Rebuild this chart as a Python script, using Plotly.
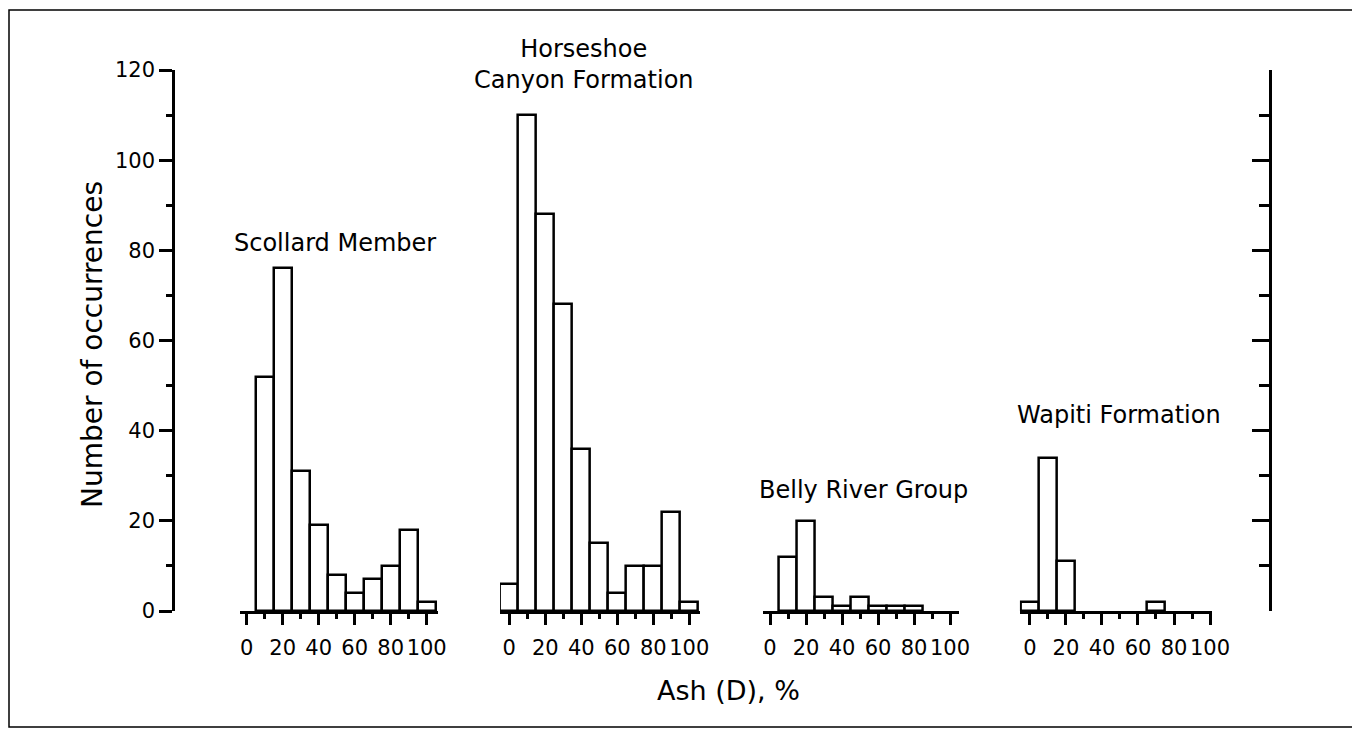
import plotly.graph_objects as go

# Ash (D) histogram counts, bin centres in % (10 % wide bins)
scollard_bins = [10, 20, 30, 40, 50, 60, 70, 80, 90, 100]
scollard_counts = [52, 76, 31, 19, 8, 4, 7, 10, 18, 2]

horseshoe_bins = [0, 10, 20, 30, 40, 50, 60, 70, 80, 90, 100]
horseshoe_counts = [6, 110, 88, 68, 36, 15, 4, 10, 10, 22, 2]

belly_bins = [10, 20, 30, 40, 50, 60, 70, 80]
belly_counts = [12, 20, 3, 1, 3, 1, 1, 1]

wapiti_bins = [0, 10, 20, 70]
wapiti_counts = [2, 34, 11, 2]

group_names = ["Scollard Member", "Horseshoe<br>Canyon Formation",
               "Belly River Group", "Wapiti Formation"]
x_ticks = [0, 20, 40, 60, 80, 100]
x_minor = [10, 30, 50, 70, 90]
y_ticks = [0, 20, 40, 60, 80, 100, 120]

# page coords of the plot area (the page body has an 8px margin)
PAGE_W, PAGE_H, OFF = 1360, 735, 8
L, R, T, B = 173, 1270, 70, 611
FONT = "DejaVu Sans"


def px(x):
    return (x - L) / (R - L)


def py(y):
    return (B - y) / (B - T)


groups = [
    (scollard_bins, scollard_counts, "x", [-3.7, 106.5], 240.0, 438.4),
    (horseshoe_bins, horseshoe_counts, "x2", [-5.2, 106], 499.9, 700.1),
    (belly_bins, belly_counts, "x3", [-4, 105], 762.8, 959.0),
    (wapiti_bins, wapiti_counts, "x4", [-5.6, 101], 1019.9, 1211.8),
]

fig = go.Figure()
layout_axes = {}
for bins, counts, xa, rng, x0, x1 in groups:
    fig.add_trace(
        go.Bar(
            x=bins,
            y=counts,
            width=10,
            xaxis=xa,
            yaxis="y",
            marker=dict(color="white", line=dict(color="black", width=2.5)),
            showlegend=False,
            hoverinfo="x+y",
        )
    )
    key = "xaxis" if xa == "x" else "xaxis" + xa[1:]
    layout_axes[key] = dict(
        domain=[px(x0), px(x1)],
        range=rng,
        anchor="y",
        tickmode="array",
        tickvals=x_ticks,
        ticks="outside",
        ticklen=11,
        tickwidth=2.5,
        tickcolor="black",
        minor=dict(tickmode="array", tickvals=x_minor, ticks="outside",
                   ticklen=5, tickwidth=2.5, tickcolor="black"),
        showline=True,
        linecolor="black",
        linewidth=2.5,
        showgrid=False,
        zeroline=False,
        tickfont=dict(family=FONT, size=21, color="black"),
        ticklabelstandoff=5,
        fixedrange=True,
    )

# empty trace so the mirrored right-hand scale gets drawn
fig.add_trace(go.Scatter(x=[], y=[], xaxis="x4", yaxis="y2",
                         showlegend=False, hoverinfo="skip"))

fig.update_layout(
    width=PAGE_W - OFF,
    height=PAGE_H - OFF,
    margin=dict(l=L - OFF, r=PAGE_W - R, t=T - OFF, b=PAGE_H - B),
    paper_bgcolor="white",
    plot_bgcolor="white",
    bargap=0,
    font=dict(family=FONT, color="black"),
    yaxis=dict(
        range=[0, 120],
        anchor="free",
        position=0,
        tickvals=y_ticks,
        ticks="outside",
        ticklen=13,
        tickwidth=2.5,
        tickcolor="black",
        minor=dict(dtick=10, ticks="outside", ticklen=6, tickwidth=2.5, tickcolor="black"),
        showline=True,
        linecolor="black",
        linewidth=2.5,
        showgrid=False,
        zeroline=False,
        tickfont=dict(family=FONT, size=21, color="black"),
        fixedrange=True,
    ),
    yaxis2=dict(
        range=[0, 120],
        overlaying="y",
        side="right",
        anchor="free",
        position=1,
        tickvals=y_ticks,
        ticks="inside",
        ticklen=17,
        tickwidth=2.5,
        tickcolor="black",
        minor=dict(dtick=10, ticks="inside", ticklen=10, tickwidth=2.5, tickcolor="black"),
        showticklabels=False,
        showline=True,
        linecolor="black",
        linewidth=2.5,
        showgrid=False,
        zeroline=False,
        fixedrange=True,
    ),
    **layout_axes,
)

label_pos = [(335, 243), (584, 64), (863, 490), (1119, 415)]
for name, (lx, ly) in zip(group_names, label_pos):
    fig.add_annotation(x=px(lx), y=py(ly), xref="paper", yref="paper", text=name,
                       xanchor="center", yanchor="middle", showarrow=False,
                       font=dict(family=FONT, size=24, color="black"))

fig.add_annotation(x=px(728), y=py(690), xref="paper", yref="paper", text="Ash (D), %",
                   xanchor="center", yanchor="middle", showarrow=False,
                   font=dict(family=FONT, size=27, color="black"))
fig.add_annotation(x=px(92), y=py(345), xref="paper", yref="paper",
                   text="Number of occurrences", textangle=-90,
                   xanchor="center", yanchor="middle", showarrow=False,
                   font=dict(family=FONT, size=28, color="black"))

# outer frame
fig.add_shape(type="rect", xref="paper", yref="paper",
              x0=px(9), x1=px(1355), y0=py(727), y1=py(10),
              line=dict(color="black", width=1.5), fillcolor="rgba(0,0,0,0)")

fig.write_html("out.html")
